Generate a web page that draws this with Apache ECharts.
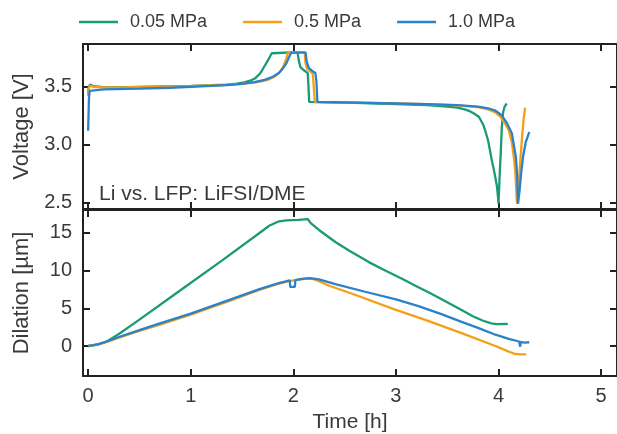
<!DOCTYPE html>
<html>
<head>
<meta charset="utf-8">
<script src="https://cdn.jsdelivr.net/npm/echarts@6/dist/echarts.min.js"></script>
<style>
  html, body { margin: 0; padding: 0; background: #fff; }
  #chart { width: 617px; height: 434px; }
</style>
</head>
<body>
<div id="chart"></div>
<script>
// Series labels (applied pressure)
const seriesNames = ['0.05 MPa', '0.5 MPa', '1.0 MPa'];
const seriesColors = ['#1a9a76', '#f59f16', '#2b82c9'];

// Tick values
const timeTicks = [0, 1, 2, 3, 4, 5];
const voltageTicks = [2.5, 3.0, 3.5];
const dilationTicks = [0, 5, 10, 15];

// Cell voltage [V] vs time [h]
const voltage005 = [
  [0.000, 3.44], [0.006, 3.50], [0.02, 3.52], [0.05, 3.505], [0.15, 3.497], [0.4, 3.498],
  [0.7, 3.503], [1.0, 3.508], [1.2, 3.514], [1.35, 3.52], [1.45, 3.528], [1.52, 3.538],
  [1.58, 3.553], [1.63, 3.575], [1.68, 3.62], [1.72, 3.68], [1.76, 3.74], [1.79, 3.79],
  [1.80, 3.80], [2.04, 3.80], [2.055, 3.72], [2.07, 3.67], [2.10, 3.645], [2.14, 3.62],
  [2.145, 3.55], [2.155, 3.37], [2.3, 3.367], [2.6, 3.362], [3.0, 3.352], [3.3, 3.342],
  [3.5, 3.33], [3.6, 3.32], [3.67, 3.305], [3.72, 3.29], [3.77, 3.265], [3.81, 3.24],
  [3.85, 3.175], [3.87, 3.125], [3.90, 3.03], [3.935, 2.865], [3.96, 2.76], [3.985, 2.64],
  [3.995, 2.55], [4.0, 2.49], [4.012, 2.75], [4.022, 2.93], [4.032, 3.15], [4.045, 3.28],
  [4.06, 3.33], [4.08, 3.356]
];
const voltage05 = [
  [0.0, 3.42], [0.006, 3.49], [0.02, 3.51], [0.05, 3.50], [0.15, 3.495], [0.4, 3.497],
  [0.7, 3.502], [1.0, 3.507], [1.3, 3.515], [1.5, 3.525], [1.65, 3.54], [1.75, 3.56],
  [1.82, 3.59], [1.87, 3.63], [1.90, 3.67], [1.93, 3.74], [1.95, 3.80], [2.11, 3.80],
  [2.12, 3.70], [2.135, 3.655], [2.17, 3.63], [2.19, 3.615], [2.195, 3.55], [2.21, 3.37],
  [2.4, 3.368], [2.7, 3.363], [3.0, 3.357], [3.3, 3.35], [3.6, 3.34], [3.8, 3.325],
  [3.9, 3.305], [3.97, 3.28], [4.02, 3.24], [4.06, 3.19], [4.10, 3.125], [4.13, 3.02],
  [4.15, 2.89], [4.165, 2.75], [4.18, 2.49], [4.195, 2.65], [4.21, 2.83], [4.23, 3.07],
  [4.245, 3.22], [4.26, 3.32]
];
const voltage10 = [
  [0.0, 3.12], [0.004, 3.13], [0.008, 3.40], [0.015, 3.465], [0.03, 3.477], [0.15, 3.478],
  [0.5, 3.485], [0.8, 3.492], [1.0, 3.50], [1.2, 3.508], [1.35, 3.515], [1.5, 3.525],
  [1.62, 3.54], [1.72, 3.56], [1.80, 3.587], [1.86, 3.62], [1.90, 3.66], [1.93, 3.70],
  [1.96, 3.76], [1.98, 3.795], [2.12, 3.795], [2.13, 3.72], [2.15, 3.665], [2.18, 3.64],
  [2.215, 3.62], [2.225, 3.55], [2.235, 3.37], [2.4, 3.368], [2.7, 3.362], [3.0, 3.356],
  [3.3, 3.35], [3.6, 3.342], [3.8, 3.33], [3.9, 3.315], [3.97, 3.295], [4.03, 3.255],
  [4.08, 3.19], [4.13, 3.10], [4.17, 2.89], [4.18, 2.76], [4.19, 2.49], [4.205, 2.60],
  [4.22, 2.75], [4.24, 2.90], [4.265, 3.02], [4.30, 3.11]
];

// Electrode dilation [µm] vs time [h]
const dilation005 = [
  [0, 0], [0.05, 0.08], [0.1, 0.22], [0.17, 0.5], [0.3, 1.6], [0.5, 3.5], [0.9, 7.4],
  [1.3, 11.3], [1.7, 15.3], [1.77, 16.0], [1.85, 16.5], [1.93, 16.67], [2.05, 16.75],
  [2.14, 16.85], [2.17, 16.3], [2.25, 15.4], [2.41, 13.8], [2.55, 12.6], [2.74, 11.1],
  [2.9, 10.0], [3.05, 9.0], [3.19, 8.0], [3.35, 6.9], [3.5, 5.8], [3.64, 4.77],
  [3.75, 3.95], [3.85, 3.35], [3.93, 3.0], [3.98, 2.9], [4.09, 2.92]
];
const dilation05 = [
  [0, 0], [0.1, 0.22], [0.2, 0.62], [0.3, 1.1], [0.5, 2.0], [0.7, 2.85], [1.0, 4.15],
  [1.35, 5.85], [1.67, 7.45], [1.85, 8.25], [1.96, 8.6], [2.05, 8.8], [2.12, 8.9],
  [2.19, 8.9], [2.25, 8.6], [2.35, 8.0], [2.6, 6.8], [3.0, 4.8], [3.3, 3.4], [3.64, 1.7],
  [3.97, 0.0], [4.1, -0.75], [4.15, -1.0], [4.2, -1.1], [4.27, -1.1]
];
const dilation10 = [
  [0, 0], [0.1, 0.25], [0.2, 0.7], [0.3, 1.2], [0.5, 2.1], [0.7, 3.0], [1.0, 4.3],
  [1.35, 6.0], [1.67, 7.55], [1.85, 8.3], [1.965, 8.7], [1.97, 7.85], [2.015, 7.85],
  [2.02, 8.75], [2.1, 8.95], [2.16, 9.0], [2.25, 8.85], [2.41, 8.2], [2.7, 7.2],
  [3.0, 6.2], [3.22, 5.3], [3.45, 4.2], [3.64, 3.2], [3.8, 2.4], [3.97, 1.5], [4.1, 0.95],
  [4.2, 0.6], [4.21, 0.6], [4.212, -0.1], [4.215, 0.55], [4.25, 0.45], [4.30, 0.5]
];

const FONT = 'Liberation Sans, Arial, Helvetica, sans-serif';
const TEXT = '#3a3a3a';
const SPINE = '#222';

const chart = echarts.init(document.getElementById('chart'), null, { renderer: 'canvas' });

// Two stacked panels sharing the time axis; the right spine sits just past the canvas edge
const grids = [
  { left: 83, top: 44, width: 536, height: 165 },
  { left: 83, top: 210, width: 536, height: 166 }
];

function frameLine() {
  return { show: true, onZero: false, lineStyle: { color: SPINE, width: 2 } };
}
function ticks(values) {
  return { show: true, inside: true, length: 7, lineStyle: { color: SPINE, width: 2 }, customValues: values };
}

const xRange = { min: -0.05, max: 5.155 };

const xAxes = [];
const yAxes = [];
[0, 1].forEach(function (g) {
  // bottom time axis
  xAxes.push(Object.assign({
    type: 'value', gridIndex: g, position: 'bottom',
    axisLine: frameLine(), axisTick: ticks(timeTicks), splitLine: { show: false },
    axisLabel: g === 1 ? {
      show: true, customValues: timeTicks, margin: 10,
      fontSize: 20, color: TEXT, fontFamily: FONT
    } : { show: false },
    name: g === 1 ? 'Time [h]' : '',
    nameLocation: 'middle', nameGap: 36,
    nameTextStyle: { fontSize: 21, color: TEXT, fontFamily: FONT }
  }, xRange));
  // top frame axis
  xAxes.push(Object.assign({
    type: 'value', gridIndex: g, position: 'top',
    axisLine: frameLine(), axisTick: ticks(timeTicks), splitLine: { show: false },
    axisLabel: { show: false }
  }, xRange));
});

const yRanges = [{ min: 2.445, max: 3.87 }, { min: -3.98, max: 18.05 }];
const yTicks = [voltageTicks, dilationTicks];
const yNames = ['Voltage [V]', 'Dilation [µm]'];
[0, 1].forEach(function (g) {
  yAxes.push(Object.assign({
    type: 'value', gridIndex: g, position: 'left',
    axisLine: frameLine(), axisTick: ticks(yTicks[g]), splitLine: { show: false },
    axisLabel: {
      show: true, customValues: yTicks[g], margin: 11,
      fontSize: 20, color: TEXT, fontFamily: FONT,
      formatter: g === 0 ? function (v) { return v.toFixed(1); } : function (v) { return String(v); }
    },
    name: yNames[g], nameLocation: 'middle', nameGap: 50,
    nameTextStyle: { fontSize: 22, color: TEXT, fontFamily: FONT }
  }, yRanges[g]));
  yAxes.push(Object.assign({
    type: 'value', gridIndex: g, position: 'right',
    axisLine: frameLine(), axisTick: ticks(yTicks[g]), splitLine: { show: false },
    axisLabel: { show: false }
  }, yRanges[g]));
});

function lineSeries(name, idx, data, panel) {
  return {
    name: name, type: 'line', data: data,
    xAxisIndex: panel * 2, yAxisIndex: panel * 2,
    showSymbol: false, symbol: 'none', smooth: false, clip: true,
    lineStyle: { color: seriesColors[idx], width: 2.3 },
    itemStyle: { color: seriesColors[idx] },
    emphasis: { disabled: true }, animation: false
  };
}

const voltageSets = [voltage005, voltage05, voltage10];
const dilationSets = [dilation005, dilation05, dilation10];
const series = [];
seriesNames.forEach(function (n, i) { series.push(lineSeries(n, i, voltageSets[i], 0)); });
seriesNames.forEach(function (n, i) { series.push(lineSeries(n, i, dilationSets[i], 1)); });

chart.setOption({
  animation: false,
  backgroundColor: '#fff',
  grid: grids,
  xAxis: xAxes,
  yAxis: yAxes,
  legend: {
    data: seriesNames,
    left: 79, top: 13, padding: 0,
    icon: 'rect', itemWidth: 39, itemHeight: 2.5, itemGap: 36,
    textStyle: { fontSize: 18, color: TEXT, fontFamily: FONT, padding: [0, 0, 0, 7] },
    selectedMode: false
  },
  graphic: [{
    type: 'text', left: 99, top: 184, silent: true,
    style: { text: 'Li vs. LFP: LiFSI/DME', fontSize: 21, fontFamily: FONT, fill: TEXT }
  }],
  series: series
});
</script>
</body>
</html>
